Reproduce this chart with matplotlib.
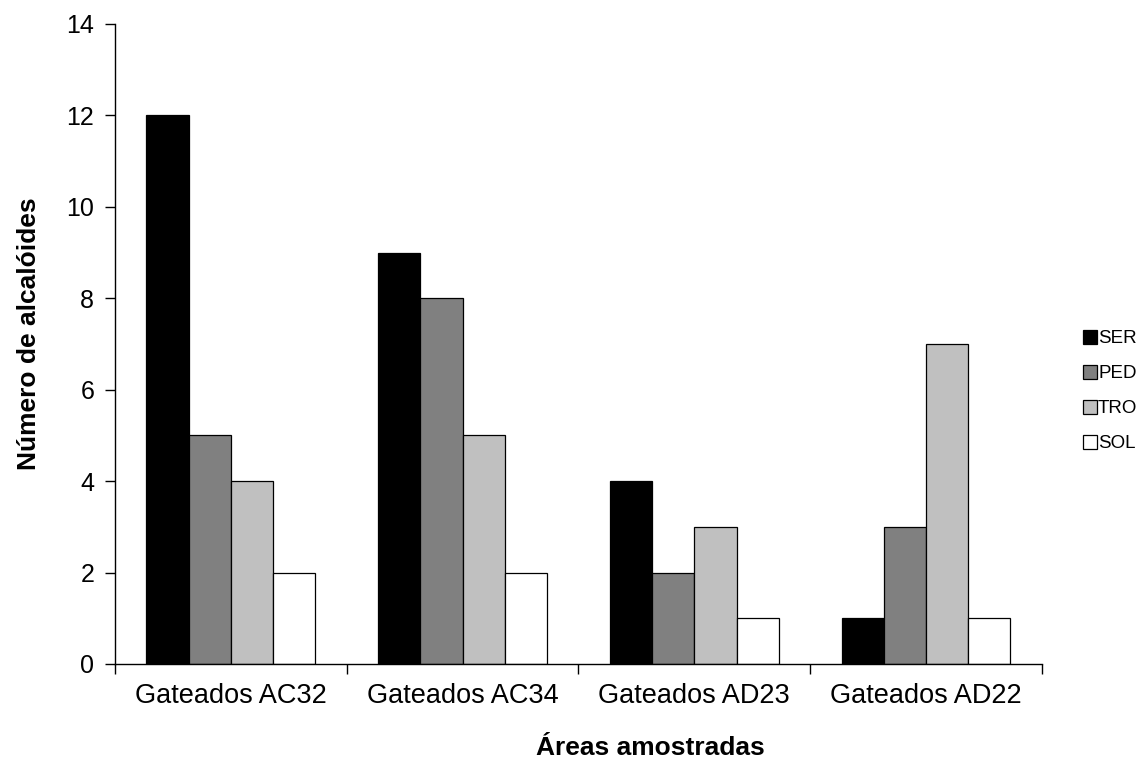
import matplotlib
matplotlib.use("Agg")
import matplotlib.pyplot as plt
import numpy as np
from matplotlib.patches import Patch

categories = ["Gateados AC32", "Gateados AC34", "Gateados AD23", "Gateados AD22"]
series_names = ["SER", "PED", "TRO", "SOL"]
SER = [12, 9, 4, 1]
PED = [5, 8, 2, 3]
TRO = [4, 5, 3, 7]
SOL = [2, 2, 1, 1]
colors = ["#000000", "#808080", "#c0c0c0", "#ffffff"]

plt.rcParams['font.family'] = ['Liberation Sans', 'DejaVu Sans']

fig = plt.figure(figsize=(11.44, 7.61), dpi=100)
ax = fig.add_axes([0.1005, 0.1275, 0.8103, 0.841])

data = [SER, PED, TRO, SOL]
n = len(categories)
x = np.arange(n) + 0.5
w = 0.182
for i, (vals, c, name) in enumerate(zip(data, colors, series_names)):
    ax.bar(x + (i - 1.5) * w, vals, width=w, color=c, edgecolor="black",
           linewidth=0.9, label=name)

ax.set_xlim(0, n)
ax.set_ylim(0, 14)
ax.set_yticks(range(0, 15, 2))
ax.set_xticks(np.arange(n + 1))
ax.set_xticklabels([""] * (n + 1))
ax.set_xticks(x, minor=True)
ax.set_xticklabels(categories, minor=True, fontsize=19.5)
ax.tick_params(axis="x", which="minor", length=0, pad=14)
ax.tick_params(axis="x", which="major", length=7, width=1)
ax.tick_params(axis="y", labelsize=18, length=7, width=1, pad=8)
for s in ["top", "right"]:
    ax.spines[s].set_visible(False)
ax.spines["left"].set_linewidth(1)
ax.spines["bottom"].set_linewidth(1)

ax.set_xlabel("Áreas amostradas", fontsize=19, fontweight="bold", labelpad=19, x=0.578)
ax.set_ylabel("Número de alcalóides", fontsize=19, fontweight="bold", labelpad=18, y=0.516)

handles = [Patch(facecolor=c, edgecolor="black", linewidth=0.9) for c in colors]
fig.legend(handles, series_names, loc="center left", bbox_to_anchor=(0.9467, 0.486),
           frameon=False, fontsize=13.5, handlelength=0.75, handleheight=0.75,
           handletextpad=0.05, labelspacing=0.94, borderpad=0, borderaxespad=0)

fig.savefig("out.png", dpi=100)
